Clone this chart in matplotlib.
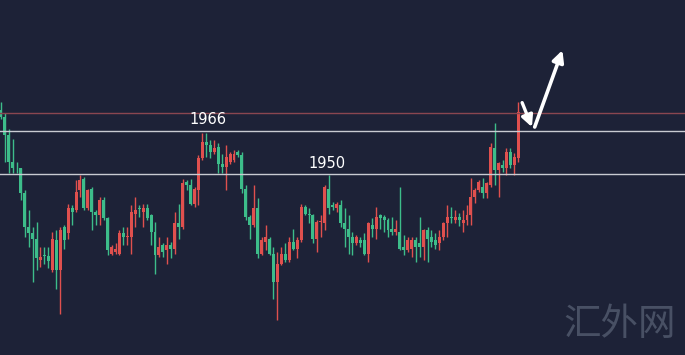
import matplotlib
matplotlib.use("Agg")
import matplotlib.pyplot as plt

# candle data (price units)
opens = [1973.8, 1971.3, 1964.5, 1954.5, 1952.4, 1952.1, 1942.8, 1930.4, 1927.9, 1926.0,
         1918.0, 1919.8, 1919.6, 1914.2, 1925.4, 1914.2, 1930.4, 1927.9, 1937.2, 1936.6,
         1944.0, 1948.3, 1937.2, 1944.6, 1935.9, 1934.7, 1940.3, 1933.5, 1920.4, 1921.1,
         1920.4, 1927.9, 1926.6, 1926.6, 1935.3, 1937.2, 1935.9, 1937.2, 1934.7, 1928.5,
         1919.8, 1923.5, 1921.7, 1923.5, 1922.3, 1931.6, 1930.4, 1947.1, 1945.9, 1939.0,
         1944.0, 1955.8, 1962.0, 1960.7, 1958.3, 1960.1, 1953.9, 1952.7, 1954.5, 1955.2,
         1958.3, 1957.0, 1944.6, 1934.1, 1931.0, 1937.2, 1920.4, 1924.8, 1926.0, 1920.4,
         1909.9, 1916.7, 1920.4, 1918.0, 1924.8, 1922.3, 1925.4, 1937.8, 1935.3, 1934.7,
         1926.0, 1932.2, 1931.6, 1944.6, 1938.4, 1937.2, 1938.4, 1931.6, 1929.7, 1926.6,
         1924.2, 1925.4, 1925.4, 1920.4, 1931.0, 1929.7, 1934.7, 1934.1, 1932.8, 1929.7,
         1928.5, 1928.5, 1922.9, 1921.7, 1922.3, 1925.4, 1924.2, 1922.9, 1929.1, 1926.6,
         1925.4, 1924.2, 1926.6, 1931.6, 1934.1, 1932.8, 1934.1, 1931.7, 1932.9, 1934.7,
         1941.6, 1944.0, 1945.3, 1942.8, 1945.9, 1959.5, 1951.5, 1953.4, 1952.1, 1958.3,
         1953.4, 1955.8]
highs = [1976.9, 1972.5, 1966.9, 1963.2, 1954.5, 1952.4, 1944.0, 1936.6, 1930.4, 1932.2,
         1922.9, 1922.9, 1922.9, 1928.5, 1929.1, 1930.4, 1931.0, 1939.0, 1938.4, 1947.7,
         1949.6, 1949.0, 1944.6, 1945.2, 1936.6, 1941.5, 1941.5, 1934.1, 1923.5, 1924.2,
         1929.1, 1930.4, 1930.4, 1938.4, 1941.5, 1938.4, 1939.0, 1939.0, 1935.3, 1932.2,
         1926.6, 1924.2, 1926.6, 1924.8, 1935.9, 1939.0, 1948.3, 1947.7, 1948.3, 1945.2,
         1957.0, 1965.1, 1965.1, 1962.6, 1962.6, 1961.4, 1957.6, 1960.7, 1958.3, 1958.9,
         1958.9, 1958.3, 1945.9, 1934.7, 1945.9, 1940.9, 1926.6, 1931.0, 1926.6, 1922.9,
         1921.1, 1922.9, 1924.2, 1926.6, 1929.7, 1926.6, 1939.0, 1938.4, 1937.2, 1935.3,
         1932.8, 1934.7, 1945.9, 1949.6, 1939.7, 1939.7, 1940.3, 1937.2, 1934.7, 1928.5,
         1927.3, 1926.6, 1927.9, 1932.2, 1933.5, 1937.8, 1935.3, 1934.7, 1933.5, 1934.1,
         1932.8, 1945.2, 1927.3, 1926.6, 1926.6, 1926.6, 1934.1, 1929.7, 1930.4, 1929.1,
         1927.9, 1929.1, 1932.2, 1938.4, 1937.8, 1936.6, 1935.5, 1936.6, 1938.5, 1948.4,
         1944.7, 1947.8, 1948.4, 1947.2, 1961.4, 1968.8, 1954.6, 1955.2, 1959.5, 1959.5,
         1957.7, 1976.9]
lows = [1970.3, 1954.5, 1950.2, 1950.2, 1950.2, 1940.3, 1926.6, 1922.9, 1909.9, 1914.2,
        1915.5, 1916.7, 1914.9, 1913.6, 1907.4, 1898.1, 1922.3, 1926.0, 1931.0, 1935.9,
        1941.5, 1936.6, 1936.6, 1929.1, 1931.0, 1931.0, 1932.8, 1919.8, 1919.8, 1920.4,
        1919.8, 1923.5, 1923.5, 1920.4, 1930.4, 1934.1, 1930.4, 1932.8, 1923.5, 1913.0,
        1919.2, 1919.2, 1916.7, 1918.6, 1920.4, 1926.0, 1929.7, 1944.0, 1938.4, 1937.8,
        1938.4, 1955.2, 1956.4, 1955.8, 1957.6, 1950.2, 1950.2, 1944.0, 1953.9, 1954.5,
        1956.4, 1942.8, 1932.8, 1926.0, 1930.4, 1918.6, 1919.8, 1921.7, 1919.8, 1903.7,
        1895.6, 1916.1, 1917.3, 1917.3, 1921.7, 1918.6, 1924.8, 1934.7, 1931.6, 1924.2,
        1921.1, 1926.6, 1929.1, 1935.3, 1936.6, 1935.9, 1930.4, 1922.9, 1920.4, 1919.8,
        1923.5, 1922.9, 1919.8, 1917.3, 1926.6, 1926.0, 1929.7, 1928.5, 1926.6, 1927.3,
        1927.3, 1921.7, 1919.8, 1921.1, 1919.2, 1917.3, 1919.2, 1918.0, 1917.3, 1922.9,
        1922.3, 1921.7, 1925.4, 1926.6, 1931.6, 1931.6, 1930.5, 1928.5, 1931.0, 1931.0,
        1939.1, 1943.4, 1941.0, 1941.0, 1945.3, 1945.9, 1941.6, 1950.9, 1949.6, 1952.1,
        1949.6, 1954.6]
closes = [1971.3, 1964.5, 1954.5, 1952.1, 1952.1, 1942.8, 1930.4, 1927.9, 1926.0, 1918.6,
          1919.2, 1919.6, 1917.7, 1926.0, 1914.2, 1929.1, 1925.4, 1937.2, 1935.9, 1943.4,
          1947.7, 1937.2, 1944.0, 1935.9, 1934.7, 1940.3, 1933.5, 1921.7, 1922.9, 1922.3,
          1927.9, 1926.6, 1926.9, 1935.9, 1936.6, 1937.0, 1937.2, 1933.5, 1928.5, 1919.8,
          1922.9, 1921.1, 1923.5, 1922.3, 1931.6, 1930.4, 1946.5, 1945.9, 1939.0, 1944.6,
          1955.8, 1962.0, 1960.7, 1958.3, 1959.5, 1953.9, 1952.7, 1956.4, 1957.6, 1957.6,
          1957.0, 1944.6, 1934.1, 1931.0, 1937.2, 1920.4, 1925.4, 1926.6, 1920.4, 1909.9,
          1916.7, 1920.4, 1918.0, 1924.8, 1922.3, 1925.4, 1937.8, 1935.3, 1934.7, 1926.0,
          1932.2, 1932.5, 1945.2, 1937.2, 1937.8, 1939.0, 1931.6, 1929.7, 1926.6, 1924.2,
          1926.6, 1924.2, 1920.4, 1931.6, 1929.7, 1934.1, 1933.5, 1932.8, 1929.1, 1928.5,
          1929.7, 1922.3, 1921.7, 1925.4, 1925.4, 1922.9, 1922.9, 1929.1, 1926.0, 1924.8,
          1923.5, 1926.6, 1931.6, 1934.1, 1933.5, 1934.1, 1932.9, 1932.9, 1934.7, 1941.6,
          1944.0, 1947.2, 1942.8, 1946.5, 1960.2, 1951.5, 1954.0, 1952.1, 1958.3, 1953.4,
          1956.5, 1973.2]

levels = [1966, 1950]
level_labels = ["1966", "1950"]
level_label_x = [52.4, 82.6]

bg = "#1d2237"
up_col = "#e0504e"
down_col = "#3dbd8a"

fig = plt.figure(figsize=(6.85, 3.55), dpi=100, facecolor=bg)
ax = fig.add_axes([0, 0, 1, 1])
ax.set_facecolor(bg)

for i, (o, h, l, c) in enumerate(zip(opens, highs, lows, closes)):
    col = up_col if c >= o else down_col
    ax.vlines(i, l, h, color=col, lw=1)
    ax.bar(i, max(abs(c - o), 0.25), bottom=min(o, c), width=0.75, color=col, linewidth=0)

# support / resistance levels
for lv in levels:
    ax.axhline(lv, color="#c9cbd2", lw=1)
ax.axhline(closes[-1] - 0.5, color="#8a4650", lw=1)

for lab, lx, lv in zip(level_labels, level_label_x, levels):
    ax.text(lx, lv + 1.3, lab, color="white", fontsize=10.5, ha="center", va="bottom")

# arrows (pullback, then breakout)
ax.annotate("", xy=(134.7, 1966.5), xytext=(131.7, 1977.5),
            arrowprops=dict(arrowstyle="-|>", color="white", lw=2.4, mutation_scale=17))
ax.annotate("", xy=(142.4, 1997.0), xytext=(134.9, 1966.5),
            arrowprops=dict(arrowstyle="-|>", color="white", lw=2.6, mutation_scale=17))

fig.text(0.905, 0.085, "汇外网", color="#485064", fontsize=27,
         family=["Noto Sans CJK SC", "DejaVu Sans"], weight="light",
         ha="center", va="center")

ax.set_xlim(-0.25, 173.2)
ax.set_ylim(1882.7, 2014.7)
ax.axis("off")

fig.savefig("out.png", dpi=100, facecolor=bg)
